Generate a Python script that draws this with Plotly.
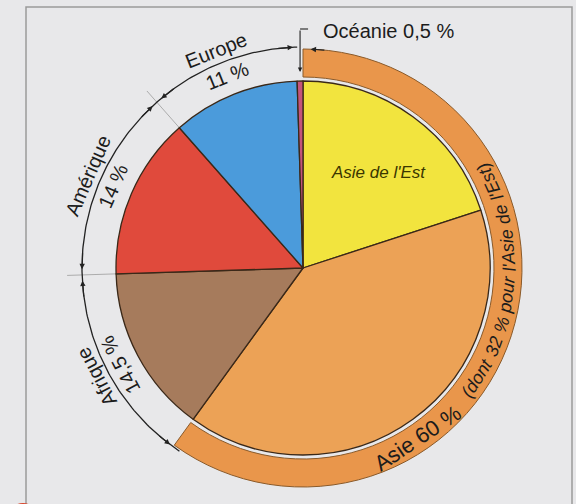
import math
import plotly.graph_objects as go

# ---------------- data ----------------
regions = ["Asie de l'Est", "Asie (autre)", "Afrique", "Amérique", "Europe", "Océanie"]
shares = [20, 40, 14.5, 14, 11, 0.5]          # drawn wedge sizes, clockwise from 12 o'clock
colors = ["#F2E43E", "#ECA256", "#A67B5C", "#E04A3C", "#4B9BDB", "#C4547A"]

asia_ring = [60, 40]                           # outer ring: Asie 60 %
ring_colors = ["#E9964B", "rgba(0,0,0,0)"]

group_names = ["Afrique", "Amérique", "Europe"]
group_pcts = ["14,5 %", "14 %", "11 %"]
oceania_label = "Océanie 0,5 %"
asia_label = "Asie 60 %"
asia_note = ["(dont", "32 %", "pour", "l'Asie", "de", "l'Est)"]

# ---------------- geometry (pixels) ----------------
W, H = 576, 504
CX, CY = 303, 268
R_PIE = 187
R_RING = 219
R_RING_IN = 191
R_ARC = 221
FONT = "Liberation Sans, Arial, sans-serif"
INK = "#1c1c1c"

def px(x, y):
    return x / W, 1 - y / H

def pol(r, phi):
    a = math.radians(phi)
    return CX + r * math.sin(a), CY - r * math.cos(a)

def norm(a):
    while a > 180:
        a -= 360
    while a <= -180:
        a += 360
    return a

WID = {'A': .667, 'E': .667, 'O': .778, 'a': .556, 'c': .5, 'd': .556, 'e': .556, 'é': .556,
       'f': .278, 'i': .222, 'l': .222, 'm': .833, 'n': .556, 'o': .556, 'p': .556, 'q': .556,
       'r': .333, 's': .5, 't': .278, 'u': .556, ' ': .278, '%': .889, ',': .278, "'": .191,
       '(': .333, ')': .333}

def tw(s):
    return sum(WID.get(c, .556) for c in s)

# cumulative boundaries (degrees clockwise from top)
cum = [0]
for s in shares:
    cum.append(cum[-1] + s * 3.6)
b_asia_end = cum[2]      # 216
b_afr_am = cum[3]
b_am_eu = cum[4]
b_eu_oc = cum[5]

fig = go.Figure()

# thin radial guide lines
for b in [b_am_eu, b_afr_am]:
    x0, y0 = pol(R_PIE, b)
    x1, y1 = pol(R_ARC + 15, b)
    fig.add_trace(go.Scatter(x=[x0, x1], y=[y0, y1], mode="lines",
                             line=dict(color="#9c9c9c", width=0.8), hoverinfo="skip"))

# dimension arc
phis = [b_asia_end - 2 + i * (360.5 - b_asia_end) / 200 for i in range(201)]
fig.add_trace(go.Scatter(x=[pol(R_ARC, p)[0] for p in phis], y=[pol(R_ARC, p)[1] for p in phis],
                         mode="lines", line=dict(color="#222", width=1.3), hoverinfo="skip"))

# outer ring
fig.add_trace(go.Pie(values=asia_ring, sort=False, direction="clockwise", rotation=0,
                     hole=R_RING_IN / R_RING, textinfo="none", hoverinfo="skip",
                     marker=dict(colors=ring_colors, line=dict(color=["#8a5a2a", "rgba(0,0,0,0)"], width=1)),
                     domain=dict(x=[px(CX - R_RING, 0)[0], px(CX + R_RING, 0)[0]],
                                 y=[px(0, CY + R_RING)[1], px(0, CY - R_RING)[1]]),
                     showlegend=False))

# main pie
fig.add_trace(go.Pie(labels=regions, values=shares, sort=False, direction="clockwise", rotation=0,
                     textinfo="none", hoverinfo="label+value",
                     marker=dict(colors=colors, line=dict(color="#3a2818", width=1.3)),
                     domain=dict(x=[px(CX - R_PIE, 0)[0], px(CX + R_PIE, 0)[0]],
                                 y=[px(0, CY + R_PIE)[1], px(0, CY - R_PIE)[1]]),
                     showlegend=False))

ann = []

# arrowheads on the dimension arc
def arrow(head_phi, tail_phi, r=R_ARC):
    hx, hy = pol(r, head_phi)
    tx, ty = pol(r, tail_phi)
    ann.append(dict(x=hx, y=hy, ax=tx, ay=ty, xref="x", yref="y", axref="x", ayref="y",
                    text="", showarrow=True, arrowhead=2, arrowsize=0.9, arrowwidth=1.2,
                    arrowcolor="#222"))

for b in [b_am_eu, b_afr_am]:
    arrow(b + 1.5, b + 6)
    arrow(b - 1.5, b - 6)
arrow(b_asia_end + 1.0, b_asia_end + 5)
arrow(b_eu_oc - 0.8, b_eu_oc - 5)
arrow(2.0, 6.0, r=R_RING)

# Océanie bracket
ox, _ = pol(R_PIE, (b_eu_oc + 360) / 2)
ann.append(dict(x=ox, y=72, ax=ox, ay=29, xref="x", yref="y", axref="x", ayref="y",
                text="", showarrow=True, arrowhead=2, arrowsize=0.8, arrowwidth=1.1, arrowcolor="#222"))
shapes = [dict(type="line", xref="x", yref="y", x0=ox, y0=29, x1=ox + 8, y1=29,
               line=dict(color="#222", width=1.1))]
ann.append(dict(x=321, y=31, xref="x", yref="y", text=oceania_label, showarrow=False,
                xanchor="left", yanchor="middle", font=dict(family=FONT, size=20, color=INK)))

# group labels around the left arc
mids = [(b_asia_end + b_afr_am) / 2, (b_afr_am + b_am_eu) / 2, (b_am_eu + b_eu_oc) / 2]
for name, pct, m in zip(group_names, group_pcts, mids):
    for txt, r in [(name, 234), (pct, 207)]:
        x, y = pol(r, m)
        ann.append(dict(x=x, y=y, xref="x", yref="y", text=txt, showarrow=False,
                        textangle=norm(m), xanchor="center", yanchor="middle",
                        font=dict(family=FONT, size=20, color=INK)))

# text along the ring (reading counter-clockwise)
def arc_words(words, size, phi_start, r, italic=False):
    phi = phi_start
    sp = math.degrees(0.278 * size / r)
    for w in words:
        d = math.degrees(tw(w) * size / r)
        pc = phi - d / 2
        x, y = pol(r, pc)
        f = dict(family=FONT, size=size, color=INK)
        if italic:
            f["style"] = "italic"
        ann.append(dict(x=x, y=y, xref="x", yref="y", text=w, showarrow=False,
                        textangle=norm(pc + 180), xanchor="center", yanchor="middle", font=f))
        phi -= d + sp

arc_words([asia_label], 22, 160, 205)
arc_words(asia_note, 18, 128, 206, italic=True)

# inner label
ann.append(dict(x=378, y=172, xref="x", yref="y", text=regions[0], showarrow=False,
                font=dict(family=FONT, size=17, color="#3a3600", style="italic")))

# page frame and page artefact
shapes.append(dict(type="rect", xref="x", yref="y", x0=26, y0=7, x1=572, y1=512,
                   line=dict(color="#9a9a9a", width=1.5), layer="below"))
shapes.append(dict(type="circle", xref="x", yref="y", x0=8, y0=503, x1=38, y1=533,
                   fillcolor="#D9452B", line=dict(width=0), layer="below"))

fig.update_layout(
    width=W, height=H, margin=dict(l=0, r=0, t=0, b=0),
    paper_bgcolor="#E3E3E5", plot_bgcolor="#E8E8EA",
    xaxis=dict(range=[0, W], visible=False, fixedrange=True, domain=[0, 1]),
    yaxis=dict(range=[H, 0], visible=False, fixedrange=True, domain=[0, 1]),
    annotations=ann, shapes=shapes, showlegend=False,
)

fig.write_html("out.html", config={"displayModeBar": False},
               post_script="document.body.style.margin='0px';document.body.style.overflow='hidden';")
